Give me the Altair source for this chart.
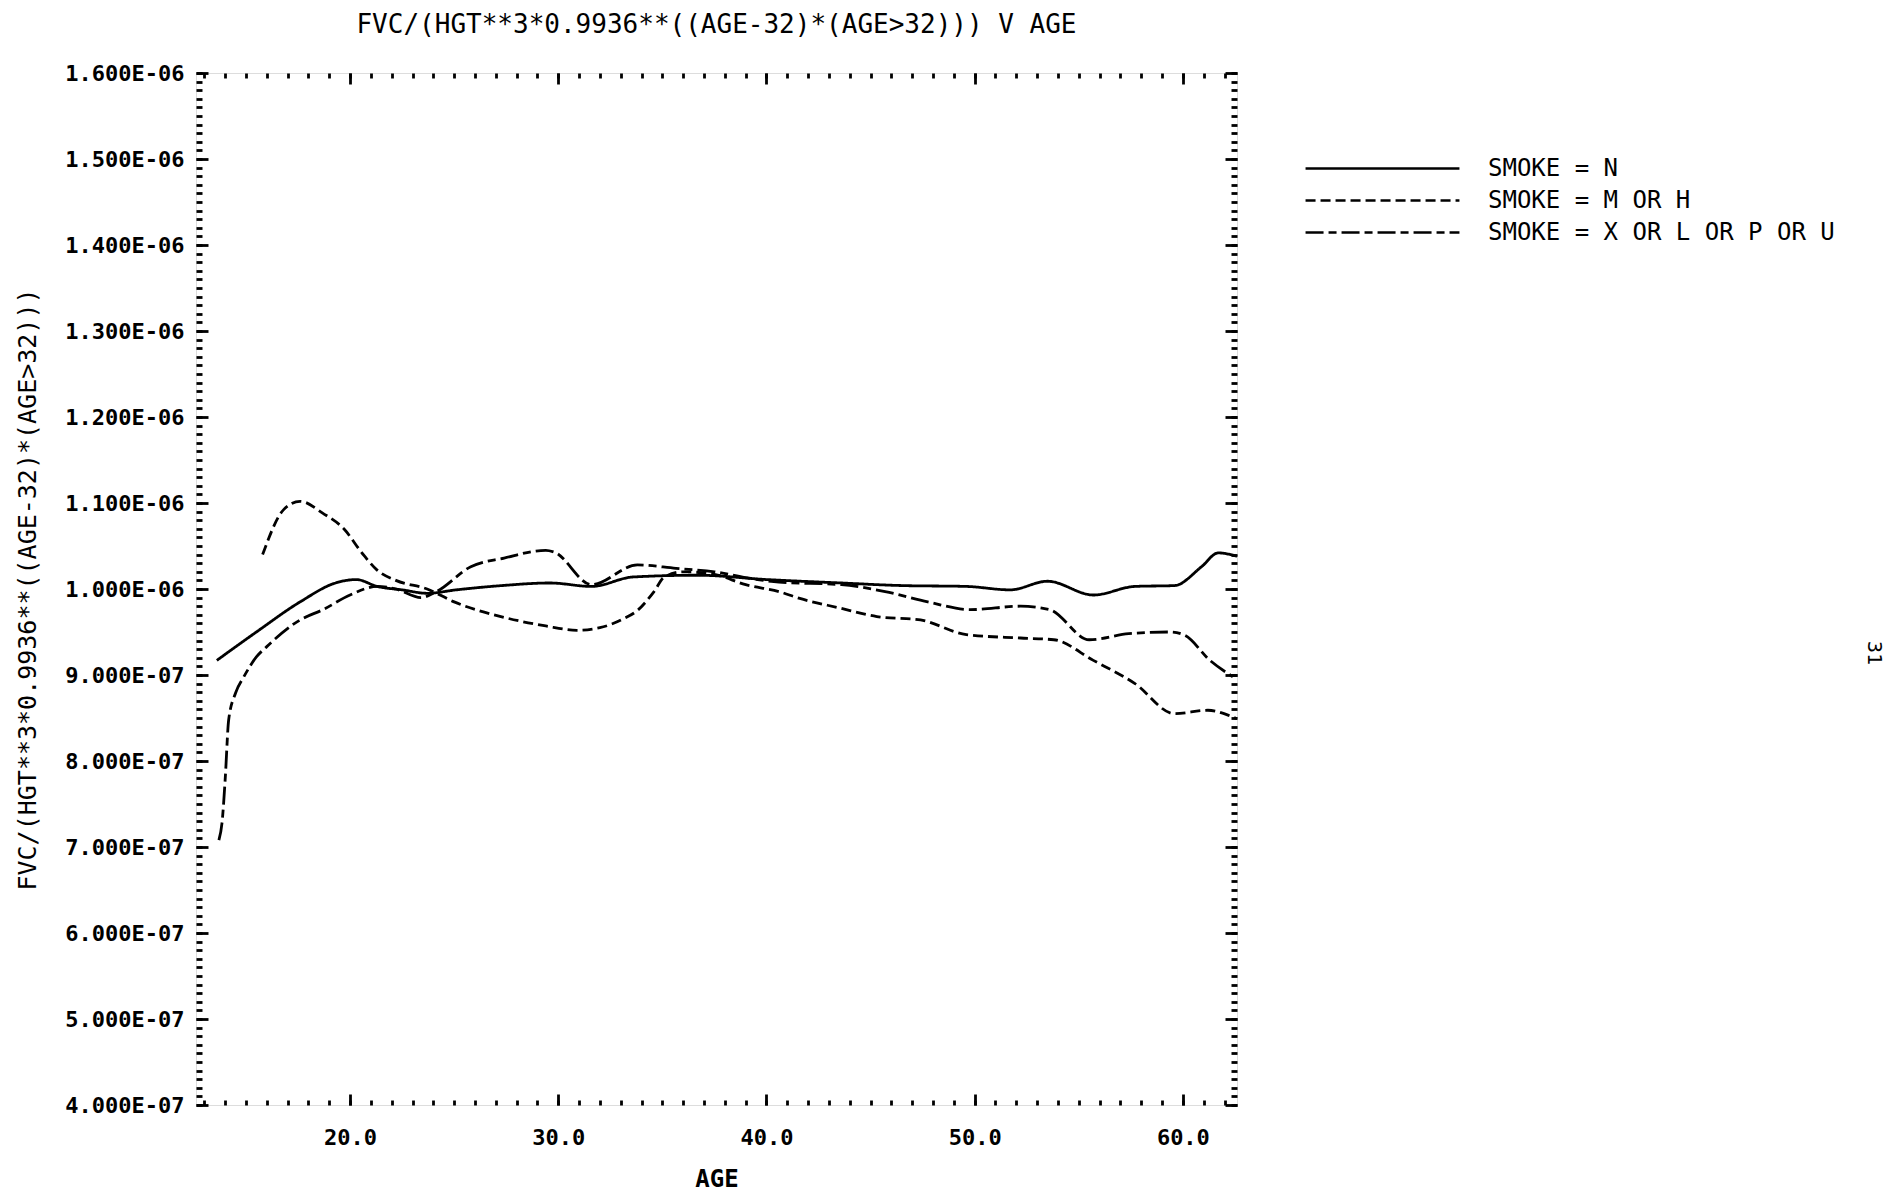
import altair as alt
import pandas as pd

# ---------------- data ----------------
series_names = ["SMOKE = N", "SMOKE = M OR H", "SMOKE = X OR L OR P OR U"]

ages_n = [13.6, 15.5, 17.6, 19.3, 20.3, 21.3, 22.5, 23.7, 25.1, 27.3, 29.6, 31.6, 33.6, 36.7,
          40.0, 43.6, 46.5, 49.6, 51.7, 53.5, 55.7, 57.7, 59.6, 60.9, 61.7, 62.6]
vals_n = [9.17e-7, 9.50e-7, 9.85e-7, 10.07e-7, 10.11e-7, 10.03e-7, 9.99e-7, 9.95e-7, 9.99e-7,
          10.04e-7, 10.07e-7, 10.03e-7, 10.14e-7, 10.16e-7, 10.11e-7, 10.07e-7, 10.04e-7,
          10.03e-7, 9.99e-7, 10.09e-7, 9.93e-7, 10.03e-7, 10.04e-7, 10.26e-7, 10.42e-7, 10.38e-7]

ages_mh = [15.8, 16.8, 17.6, 18.7, 19.7, 20.6, 21.3, 22.2, 23.7, 25.0, 27.4, 29.4, 30.9, 32.0,
           33.1, 33.8, 34.6, 35.1, 36.0, 37.5, 39.0, 40.6, 41.6, 43.5, 45.3, 47.4, 49.6, 52.2,
           53.8, 55.7, 57.7, 59.6, 61.2, 62.2, 62.6]
vals_mh = [10.40e-7, 10.92e-7, 11.02e-7, 10.88e-7, 10.70e-7, 10.41e-7, 10.22e-7, 10.10e-7,
           10.00e-7, 9.85e-7, 9.67e-7, 9.57e-7, 9.52e-7, 9.55e-7, 9.65e-7, 9.75e-7, 9.97e-7,
           10.14e-7, 10.20e-7, 10.17e-7, 10.05e-7, 9.97e-7, 9.89e-7, 9.78e-7, 9.68e-7, 9.64e-7,
           9.47e-7, 9.43e-7, 9.41e-7, 9.17e-7, 8.90e-7, 8.55e-7, 8.59e-7, 8.53e-7, 8.49e-7]

ages_x = [13.7, 13.85, 14.0, 14.17, 14.5, 14.9, 15.5, 16.0, 17.6, 18.7, 20.0, 21.3, 22.2, 23.4,
          24.15, 25.8, 27.4, 29.4, 29.8, 31.6, 33.8, 35.65, 37.5, 39.3, 40.6, 43.6, 45.7, 47.75,
          49.8, 52.2, 53.6, 55.5, 57.4, 59.4, 60.1, 61.3, 62.4]
vals_x = [7.08e-7, 7.28e-7, 7.78e-7, 8.48e-7, 8.79e-7, 8.98e-7, 9.21e-7, 9.33e-7, 9.64e-7,
          9.76e-7, 9.93e-7, 10.03e-7, 10.00e-7, 9.90e-7, 9.97e-7, 10.26e-7, 10.36e-7, 10.45e-7,
          10.43e-7, 10.05e-7, 10.28e-7, 10.24e-7, 10.20e-7, 10.12e-7, 10.08e-7, 10.05e-7,
          9.97e-7, 9.85e-7, 9.76e-7, 9.80e-7, 9.76e-7, 9.41e-7, 9.48e-7, 9.50e-7, 9.46e-7,
          9.17e-7, 8.98e-7]

x_major = [20, 30, 40, 50, 60]
x_minor = list(range(13, 63))
y_major = [4e-7, 5e-7, 6e-7, 7e-7, 8e-7, 9e-7, 1.0e-6, 1.1e-6, 1.2e-6, 1.3e-6, 1.4e-6, 1.5e-6, 1.6e-6]
y_minor = [round(4e-7 + i * 1e-8, 12) for i in range(121)]

title_text = "FVC/(HGT**3*0.9936**((AGE-32)*(AGE>32))) V AGE"
y_title = "FVC/(HGT**3*0.9936**((AGE-32)*(AGE>32)))"
x_title = "AGE"
page_number = ["31"]

rows = []
for name, ages, vals in zip(series_names, [ages_n, ages_mh, ages_x], [vals_n, vals_mh, vals_x]):
    for i, (a, v) in enumerate(zip(ages, vals)):
        rows.append({"series": name, "age": a, "fvc": v, "order": i})
df = pd.DataFrame(rows)

FONT = "DejaVu Sans Mono"
W, H = 1041, 1032
xscale = alt.Scale(domain=[12.6, 62.6], nice=False, zero=False)
yscale = alt.Scale(domain=[4e-7, 1.6e-6], nice=False, zero=False)
label_expr = "replace(replace(format(datum.value, '.3e'), 'e-7', 'E-07'), 'e-6', 'E-06')"


def tick_axis(orient, values, size, **kw):
    return alt.Axis(orient=orient, values=values, tickSize=size, offset=-size, domain=False,
                    grid=False, tickColor="black", tickWidth=2.8, **kw)


no_lab = dict(labels=False, title=None)

# long horizontal legend sample: custom path scaled by sqrt(symbolSize)/2
legend_path = "M-5.13,0H5.13"

main = alt.Chart(df).mark_line(color="black", strokeWidth=2.8, interpolate="monotone").encode(
    x=alt.X("age:Q", scale=xscale,
            axis=tick_axis("bottom", x_major, 11, format=".1f", labelFont=FONT, labelFontSize=22,
                           labelFontWeight="bold", labelPadding=22, labelColor="black",
                           title=x_title, titleFont=FONT, titleFontSize=24, titleFontWeight="bold",
                           titlePadding=19, titleColor="black")),
    y=alt.Y("fvc:Q", scale=yscale,
            axis=tick_axis("left", y_major, 12, labelExpr=label_expr, labelFont=FONT,
                           labelFontSize=22, labelFontWeight="bold", labelPadding=12,
                           labelColor="black", title=y_title, titleFont=FONT, titleFontSize=25,
                           titleFontWeight="normal", titlePadding=24, titleColor="black")),
    strokeDash=alt.StrokeDash("series:N",
                              scale=alt.Scale(domain=series_names,
                                              range=[[1, 0], [10, 5], [18, 5, 8, 5]]),
                              legend=alt.Legend(orient="none", legendX=1170, legendY=79,
                                                title=None, symbolType=legend_path,
                                                symbolSize=900, symbolStrokeWidth=2.6,
                                                symbolStrokeColor="black",
                                                symbolFillColor="transparent", labelFont=FONT,
                                                labelFontSize=24, labelColor="black",
                                                labelLimit=0, labelOffset=89, rowPadding=3)),
    order="order:Q",
)

minor_bl = alt.Chart(df).mark_line(opacity=0).encode(
    x=alt.X("age:Q", scale=xscale, axis=tick_axis("bottom", x_minor, 5, **no_lab)),
    y=alt.Y("fvc:Q", scale=yscale, axis=tick_axis("left", y_minor, 6, **no_lab)),
)
major_tr = alt.Chart(df).mark_line(opacity=0).encode(
    x=alt.X("age:Q", scale=xscale, axis=tick_axis("top", x_major, 11, **no_lab)),
    y=alt.Y("fvc:Q", scale=yscale, axis=tick_axis("right", y_major, 12, **no_lab)),
)
minor_tr = alt.Chart(df).mark_line(opacity=0).encode(
    x=alt.X("age:Q", scale=xscale, axis=tick_axis("top", x_minor, 5, **no_lab)),
    y=alt.Y("fvc:Q", scale=yscale, axis=tick_axis("right", y_minor, 6, **no_lab)),
)

page = alt.Chart(pd.DataFrame({"t": page_number})).mark_text(
    font=FONT, fontSize=20, angle=90, color="black").encode(
    text="t:N", x=alt.value(1678), y=alt.value(580))

chart = alt.layer(main, minor_bl, major_tr, minor_tr, page).resolve_axis(
    x="independent", y="independent"
).properties(
    width=W, height=H,
    title=alt.Title(title_text, font=FONT, fontSize=26, fontWeight="normal", color="black",
                    anchor="middle", offset=24),
    autosize=alt.AutoSizeParams(type="none"),
    padding={"left": 196, "top": 73, "right": 1888 - 196 - W, "bottom": 1193 - 73 - H},
).configure_view(stroke="black", strokeWidth=3.5).configure(background="white")

chart.save("out.html", embed_options={"renderer": "svg", "actions": False})
